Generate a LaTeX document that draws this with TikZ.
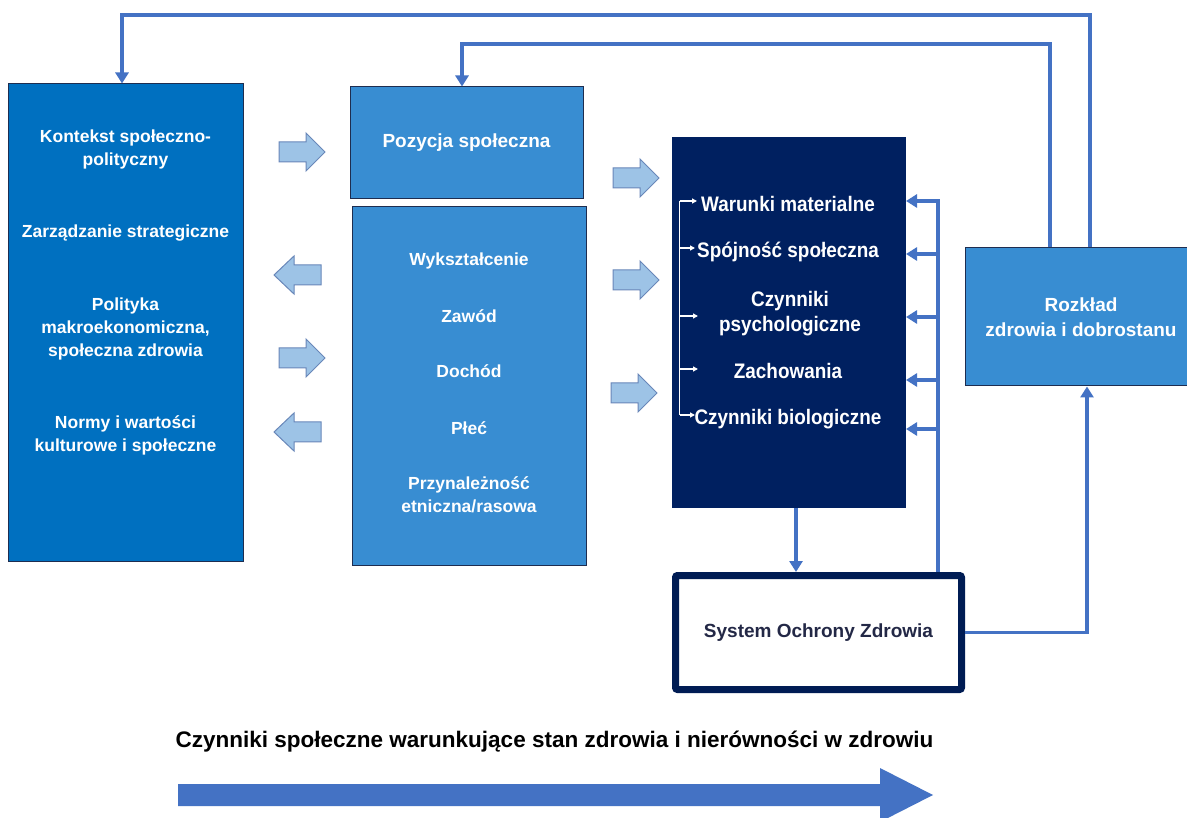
\documentclass[tikz,border=0pt]{standalone}
\usepackage{fontspec}
\setmainfont{Liberation Sans}
\newfontfamily\narrowsans[FakeStretch=0.9]{Liberation Sans}
\usetikzlibrary{arrows.meta}
\definecolor{ctxblue}{RGB}{0,112,192}
\definecolor{midblue}{RGB}{56,141,210}
\definecolor{navy}{RGB}{0,32,96}
\definecolor{fbline}{RGB}{68,114,196}
\definecolor{arrfill}{RGB}{157,195,230}
\definecolor{arrdraw}{RGB}{105,135,185}
\definecolor{sysnavy}{RGB}{0,28,84}
\definecolor{systext}{RGB}{35,40,70}
\definecolor{boxedge}{RGB}{30,45,80}
\begin{document}
\begin{tikzpicture}[x=1pt,y=-1pt,
  box/.style={rectangle, inner sep=0pt, draw=boxedge, line width=1pt},
  lbl/.style={text=white, font=\bfseries\fontsize{17.5}{23}\selectfont, align=center, inner sep=0pt},
  lblbig/.style={text=white, font=\bfseries\fontsize{19}{25}\selectfont, align=center, inner sep=0pt},
  lblmech/.style={text=white, font=\narrowsans\bfseries\fontsize{21}{25}\selectfont, align=center, inner sep=0pt},
  fb/.style={draw=fbline, line width=3.5pt},
  fbarr/.style={fb, -{Triangle[length=11pt,width=13pt]}},
  wl/.style={draw=white, line width=1.5pt},
  warr/.style={wl, -{Triangle[length=5pt,width=5pt]}},
  barrow/.style={fill=arrfill, draw=arrdraw, line width=1pt, line join=miter}
]
\useasboundingbox (0,0) rectangle (1187,818);
\fill[white] (0,0) rectangle (1187,818);

% main boxes
\node[box, fill=ctxblue, minimum width=235pt, minimum height=477pt] (ctx) at (125.5,322.5) {};
\node[box, fill=midblue, minimum width=233pt, minimum height=112pt, lblbig] (pos) at (466.5,143) {Pozycja społeczna};
\node[box, fill=midblue, minimum width=234pt, minimum height=358pt] (strat) at (469,386) {};
\node[rectangle, inner sep=0pt, fill=navy, minimum width=234pt, minimum height=371pt] (mech) at (789,322.5) {};
\node[box, fill=midblue, minimum width=232pt, minimum height=138pt, lblbig] (roz) at (1081,317) {Rozkład\\zdrowia i dobrostanu};
\node[rectangle, draw=sysnavy, line width=7pt, rounded corners=2pt, fill=white, minimum width=286pt, minimum height=114pt,
      text=systext, font=\bfseries\fontsize{19}{23}\selectfont, inner sep=0pt] (sys) at (818.5,632.5) {System Ochrony Zdrowia};

% left box texts
\node[lbl] (k1) at (125.5,149.5) {Kontekst społeczno-\\polityczny};
\node[lbl] (k2) at (125.5,233) {Zarządzanie strategiczne};
\node[lbl] (k3) at (125.5,329) {Polityka\\makroekonomiczna,\\społeczna zdrowia};
\node[lbl] (k4) at (125.5,435.5) {Normy i wartości\\kulturowe i społeczne};

% stratification texts
\node[lbl] (s1) at (469,261) {Wykształcenie};
\node[lbl] (s2) at (469,316) {Zawód};
\node[lbl] (s3) at (469,371) {Dochód};
\node[lbl] (s4) at (469,428) {Płeć};
\node[lbl] (s5) at (469,494.5) {Przynależność\\etniczna/rasowa};

% intermediary texts
\node[lblmech] (m1) at (788,204) {Warunki materialne};
\node[lblmech] (m2) at (788,252) {Spójność społeczna};
\node[lblmech] (m3) at (790,313.5) {Czynniki\\psychologiczne};
\node[lblmech] (m4) at (788,371) {Zachowania};
\node[lblmech] (m5) at (788,419) {Czynniki biologiczne};

% white internal arrows
\coordinate (wt) at (679.5,201);
\coordinate (wb) at (679.5,415);
\coordinate (t1) at (697,201);
\coordinate (t2) at (695,248);
\coordinate (t3) at (698,316);
\coordinate (t4) at (698,369);
\coordinate (t5) at (695,415);
\draw[wl] (wt) -- (wb);
\foreach \t in {t1,t2,t3,t4,t5} \draw[warr] (wt |- \t) -- (\t);

% feedback from health system into the intermediary box
\coordinate (bus) at (938,0);
\coordinate (f1) at (906,201);
\coordinate (f2) at (906,254);
\coordinate (f3) at (906,317);
\coordinate (f4) at (906,380);
\coordinate (f5) at (906,429);
\draw[fbarr] (sys.north -| bus) -- (bus |- f1) -- (f1);
\foreach \f in {f2,f3,f4,f5} \draw[fbarr] (bus |- \f) -- (\f);

% mech to system
\coordinate (dn) at (796,0);
\draw[fbarr] (mech.south -| dn) -- (sys.north -| dn);

% system to distribution
\coordinate (up) at (1087,0);
\draw[fbarr] (sys.east) -| (roz.south -| up);

% top feedback loops
\coordinate (o1) at (1090,15);
\coordinate (o2) at (122,15);
\draw[fbarr] (roz.north -| o1) |- (o2) -- (ctx.north -| o2);
\coordinate (i1) at (1050,44);
\coordinate (i2) at (462,44);
\draw[fbarr] (roz.north -| i1) |- (i2) -- (pos.north -| i2);

% block arrows (right-pointing)
\foreach \x/\y in {279/152, 279/358, 613/178, 613/280, 611/393}
  \draw[barrow] (\x,\y) ++(0,-10) -- ++(27,0) -- ++(0,-9) -- ++(19,19) -- ++(-19,19) -- ++(0,-9) -- ++(-27,0) -- cycle;
% block arrows (left-pointing)
\foreach \x/\y in {321/275, 321/432}
  \draw[barrow] (\x,\y) ++(0,-10) -- ++(-27,0) -- ++(0,-9) -- ++(-20,19) -- ++(20,19) -- ++(0,-9) -- ++(27,0) -- cycle;

% bottom caption and axis arrow
\node[inner sep=0pt, font=\bfseries\fontsize{22.5}{26}\selectfont] (cap) at (554.5,742) {Czynniki społeczne warunkujące stan zdrowia i nierówności w zdrowiu};
\fill[fbline] (178,784) -- (880,784) -- (880,768) -- (933,795) -- (880,822) -- (880,806) -- (178,806) -- cycle;
\end{tikzpicture}
\end{document}
